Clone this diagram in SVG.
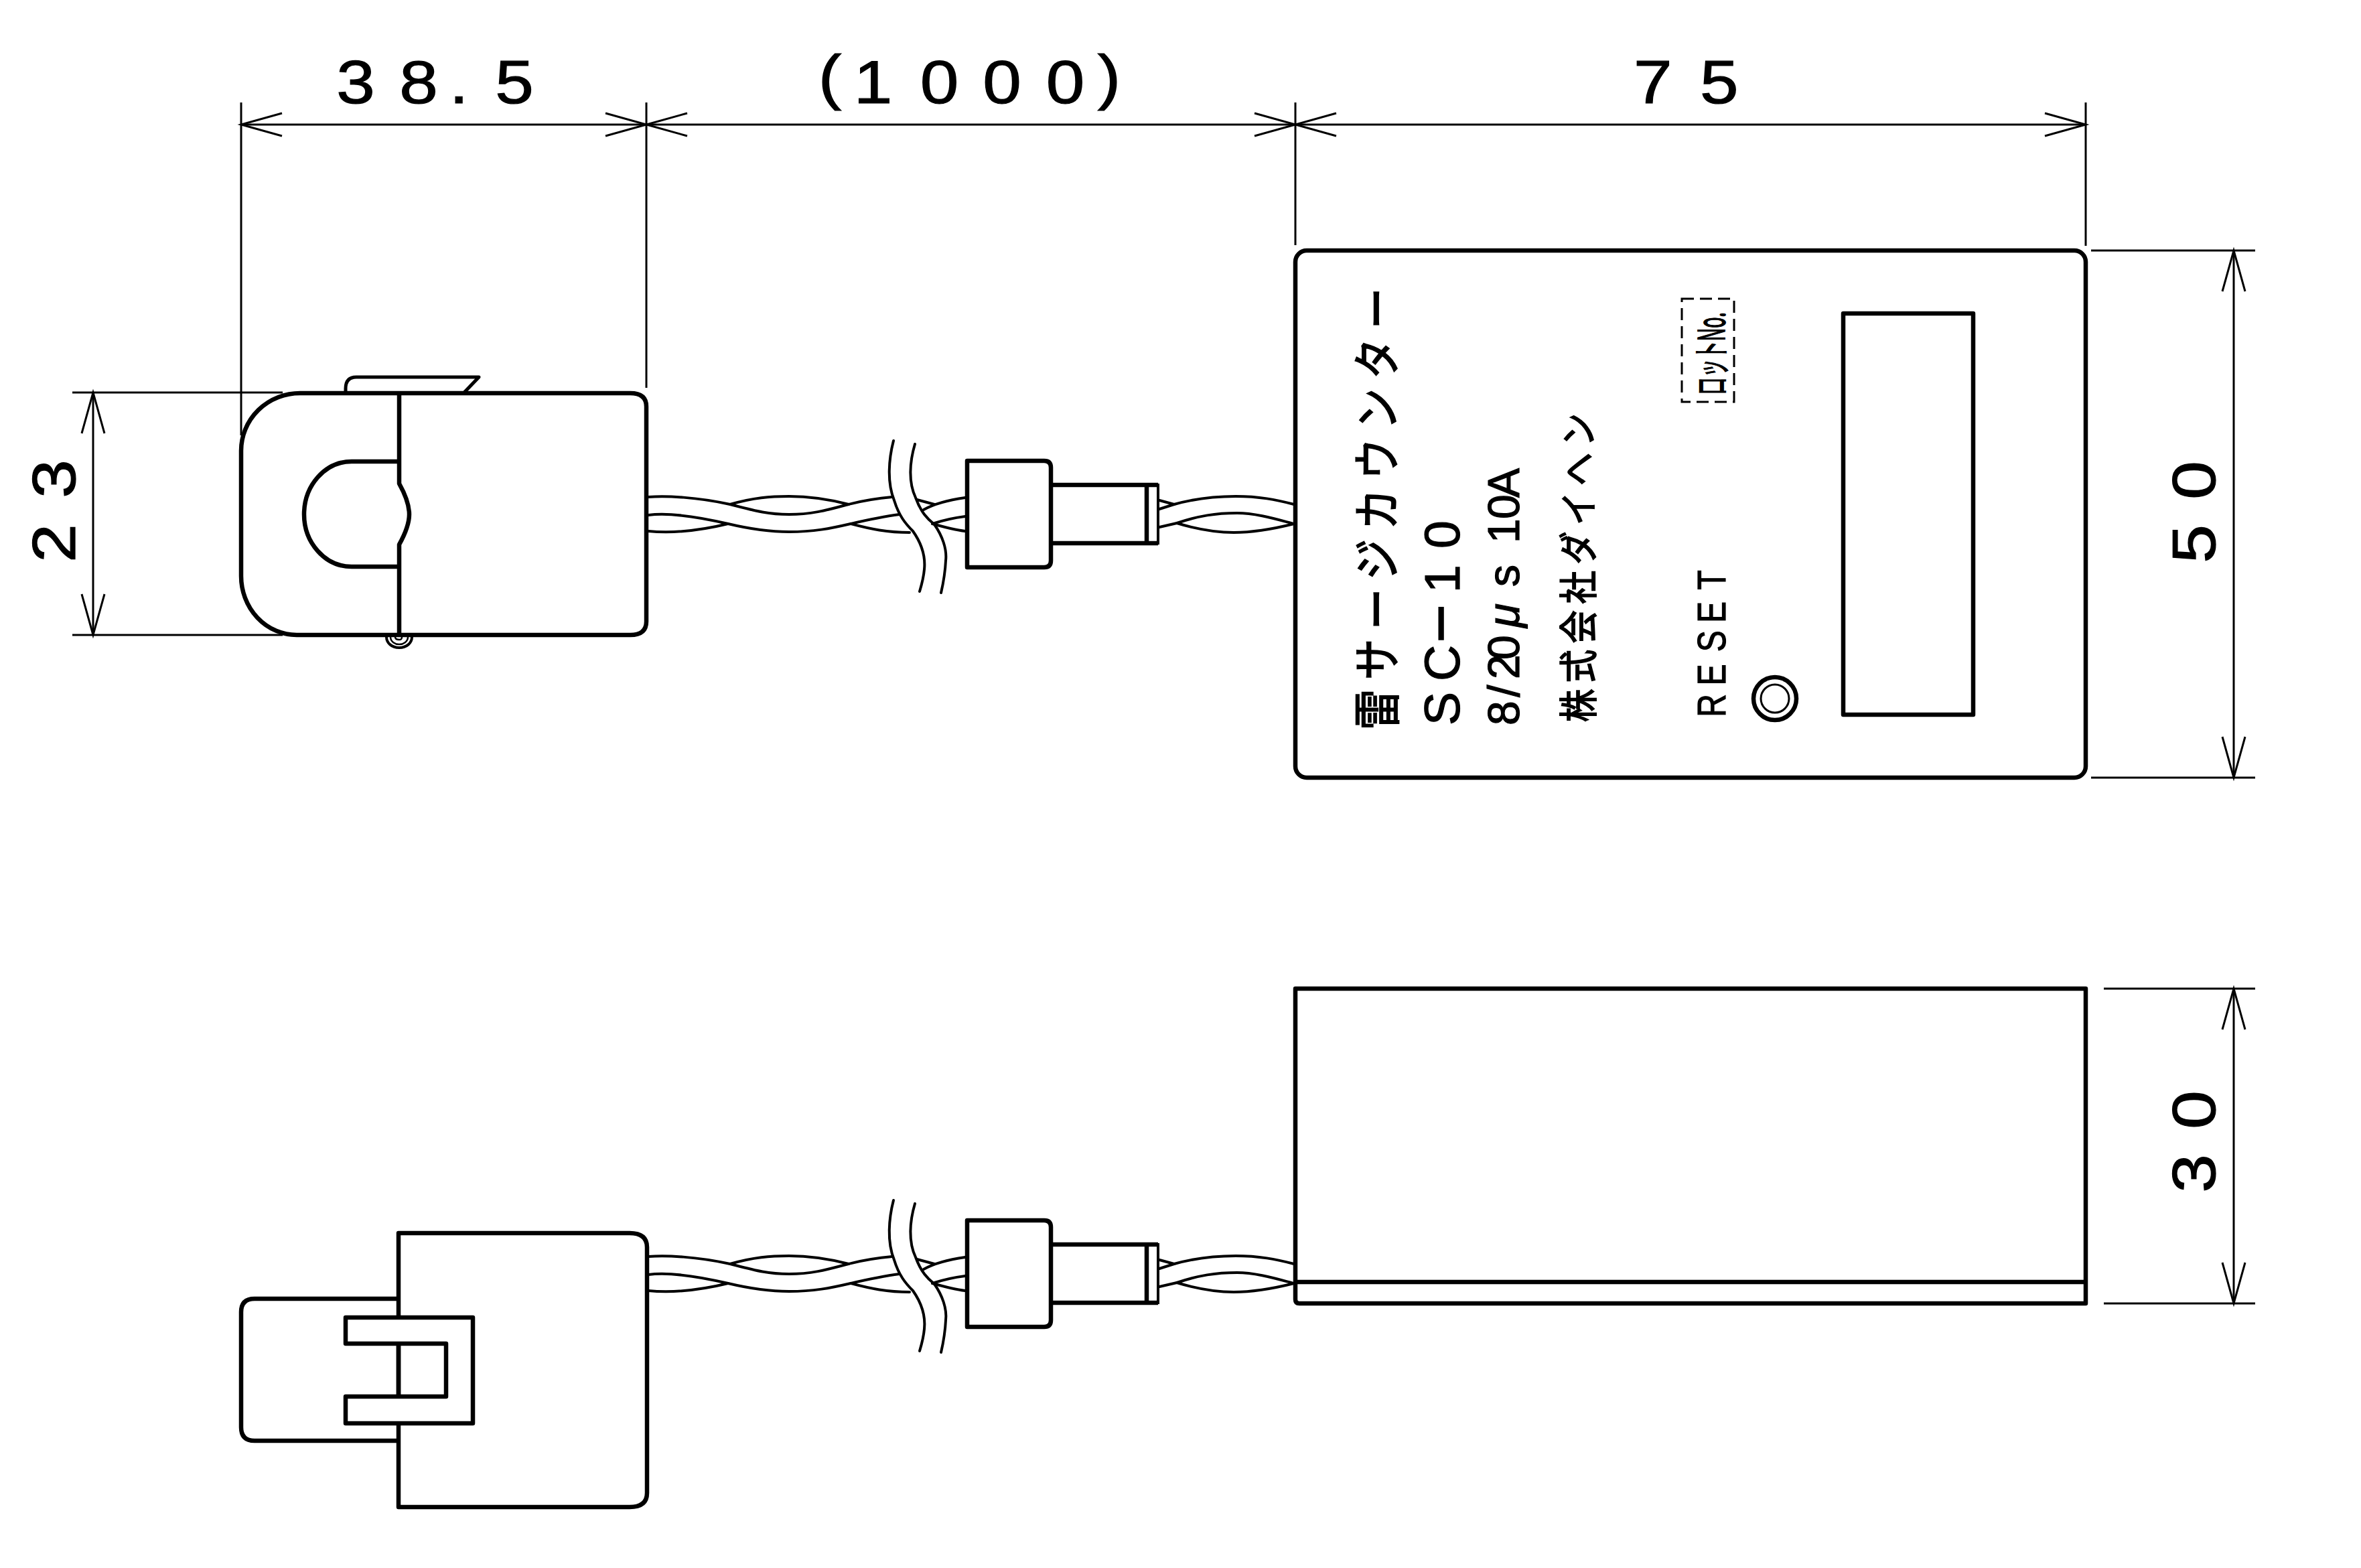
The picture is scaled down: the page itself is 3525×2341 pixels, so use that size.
<svg xmlns="http://www.w3.org/2000/svg" xmlns:xlink="http://www.w3.org/1999/xlink" width="3525" height="2341" viewBox="0 0 3525 2341">
<style>
.o{fill:none;stroke:#000;stroke-width:6.5;stroke-linejoin:round;stroke-linecap:butt}
.f{fill:#fff;stroke:#000;stroke-width:6.5;stroke-linejoin:round}
.w{fill:none;stroke:#000;stroke-width:4;stroke-linecap:round}
.b{fill:none;stroke:#000;stroke-width:4;stroke-linecap:round}
.d{fill:none;stroke:#000;stroke-width:3}
.a{marker-start:url(#arr);marker-end:url(#arr)}
text{fill:#000;stroke:#000;stroke-width:1.2;font-family:"Liberation Sans","Noto Sans CJK JP",sans-serif}
.n{font-size:90px;text-anchor:middle}
.j{font-family:"Noto Sans CJK JP","Liberation Sans",sans-serif;stroke-width:1.8}
</style>
<defs>
<marker id="arr" viewBox="-62 -18 64 36" refX="0" refY="0" markerWidth="64" markerHeight="36" markerUnits="userSpaceOnUse" orient="auto-start-reverse" overflow="visible">
<path d="M-61 -17L0 0L-61 17" fill="none" stroke="#000" stroke-width="3"/>
</marker>
<g id="cable">
<path class="w" d="M968 742C995 740 1040 742 1090 753C1125 762 1145 768 1178 768C1215 768 1240 760 1267 753C1290 747 1310 744 1332 742"/>
<path class="w" d="M1090 753C1125 743 1150 741 1178 741C1210 741 1240 746 1267 753"/>
<path class="w" d="M968 769C1000 765 1040 771 1087 782C1125 791 1150 794 1178 794C1215 794 1240 789 1270 782C1300 775 1320 771 1343 768"/>
<path class="w" d="M968 793C1010 797 1050 791 1087 782"/>
<path class="w" d="M1270 782C1300 790 1325 795 1358 795"/>
<path class="w" d="M1369 746L1395 753"/>
<path class="w" d="M1379 761C1395 752 1420 746 1441 743"/>
<path class="w" d="M1392 782C1410 776 1425 773 1441 771"/>
<path class="w" d="M1392 782C1410 787 1425 791 1441 793"/>
<path class="w" d="M1731 760L1753 753C1785 744 1815 741 1845 741C1880 741 1905 746 1932 753"/>
<path class="w" d="M1731 747L1753 753"/>
<path class="w" d="M1731 787L1757 781C1790 770 1815 766 1847 766C1875 766 1905 775 1932 782"/>
<path class="w" d="M1757 781C1790 791 1815 795 1842 795C1870 795 1900 790 1932 782"/>
<path class="b" d="M1334 658C1327 685 1324 720 1335 747C1342 770 1352 782 1363 793C1375 810 1382 830 1380 850C1379 862 1376 873 1373 883"/>
<path class="b" d="M1366 663C1358 690 1356 720 1367 743C1375 765 1385 775 1395 783C1407 800 1414 820 1412 837C1411 858 1408 872 1405 885"/>
<path class="o" d="M1569 724H1729M1569 811H1729M1712 724V811"/>
<path d="M1729 722V813" fill="none" stroke="#000" stroke-width="4"/>
<path class="o" d="M1444 688H1559Q1569 688 1569 698V837Q1569 847 1559 847H1444Z"/>
</g>
</defs>
<rect width="3525" height="2341" fill="#fff"/>

<g id="connectors">
<path class="d" d="M360 153V650M965 153V579M1934 153V366M3114 153V367"/>
<path class="d a" d="M360 186H965"/>
<path class="d a" d="M965 186H1934"/>
<path class="d a" d="M1934 186H3114"/>
<path class="d" d="M108 586H422M108 948H422"/>
<path class="d a" d="M139 586V948"/>
<path class="d" d="M3122 374H3367M3122 1161H3367"/>
<path class="d a" d="M3335 374V1161"/>
<path class="d" d="M3141 1476H3367M3141 1946H3367"/>
<path class="d a" d="M3335 1476V1946"/>
<use xlink:href="#cable" href="#cable"/>
<use xlink:href="#cable" href="#cable" transform="translate(0,1134)"/>
</g>

<g id="dim-labels">
<g id="dim-38-5" transform="translate(0,154) scale(1.15,1)"><text class="n" x="461.7 543.5 595.7 667.8">38.5</text></g>
<g id="dim-1000" transform="translate(0,154) scale(1.15,1)"><text class="n" x="1077.4 1133.5 1219.6 1300.9 1383 1440" y="-8 0 0 0 0 -8">(1000)</text></g>
<g id="dim-75" transform="translate(0,154) scale(1.15,1)"><text class="n" x="2146 2232">75</text></g>
<g id="dim-23" transform="translate(112,811) rotate(-90) scale(1.15,1)"><text class="n" x="0 83.5">23</text></g>
<g id="dim-50" transform="translate(3307,812) rotate(-90) scale(1.15,1)"><text class="n" x="0 82.6">50</text></g>
<g id="dim-30" transform="translate(3307,1752) rotate(-90) scale(1.15,1)"><text class="n" x="0 82.6">30</text></g>
</g>

<g id="sensor-top">
<path class="o" d="M516 584V580Q516 563 532 563H715L692 587" style="stroke-width:5"/>
<path class="o" d="M448 587H941Q965 587 965 607V928Q965 948 941 948H443A83 88 0 0 1 360 860V673A88 86 0 0 1 448 587Z"/>
<path class="o" d="M596 587V722C606 740 611 755 611 768C611 780 606 795 596 813V948"/>
<path class="o" d="M596 689H525C485 689 454 725 454 768C454 810 485 846 525 846H596"/>
<path class="b" d="M577 951C577 960 585 967 596 967C607 967 615 960 615 951"/>
<path d="M583 951C583 958 590 962 596 962C602 962 609 958 609 951M590 951C590 954 593 955 596 955C599 955 600 954 600 951" fill="none" stroke="#000" stroke-width="2.5"/>
</g>

<g id="sensor-side">
<path class="o" d="M595 1939H380Q360 1939 360 1959V2131Q360 2151 380 2151H595"/>
<path class="f" d="M595 1841H940Q966 1841 966 1862V2229Q966 2250 940 2250H595Z"/>
<path class="f" d="M516 1967H706V2125H516V2085H666V2006H516Z"/>
<path class="o" d="M595 2006V2085"/>
</g>

<g id="counter-front">
<rect class="o" x="1934" y="374" width="1180" height="787" rx="17" ry="17"/>
<rect class="o" x="2752" y="468" width="194" height="599"/>
<rect x="2511" y="446" width="78" height="154" fill="none" stroke="#000" stroke-width="3" stroke-dasharray="18 9"/>
<circle class="o" cx="2650" cy="1043" r="32"/>
<circle cx="2650" cy="1043" r="21" fill="none" stroke="#000" stroke-width="3"/>
<g transform="translate(2082,1090) rotate(-90) scale(.85,1)"><text class="j" font-size="72" letter-spacing="16.3">雷サージカウンター</text></g>
<g transform="translate(2179,1083) rotate(-90)"><text font-size="75" x="0 66 123 198 264" y="0 0 6 0 0">SC<tspan font-size="100">−</tspan>10</text></g>
<g transform="translate(2268,1083) rotate(-90)"><text font-size="66" x="0 42 69 98 146 207 250 272 308 340">8/20<tspan font-style="italic">μ</tspan>s 10A</text></g>
<g transform="translate(2378,1078) rotate(-90) scale(.85,1)"><text class="j" font-size="58" letter-spacing="11.2">株式会社ダイヘン</text></g>
<g transform="translate(2576,1070) rotate(-90) scale(.8,1)"><text font-size="60" x="-1 58 121 175 237">RESET</text></g>
<g transform="translate(2575,590) rotate(-90) scale(.49,1)"><text class="j" font-size="55">ロットNo.</text></g>
</g>

<g id="counter-side">
<path class="o" d="M1934 1476H3114V1946H1940Q1934 1946 1934 1940Z"/>
<path class="o" d="M1934 1914H3114"/>
</g>
</svg>
